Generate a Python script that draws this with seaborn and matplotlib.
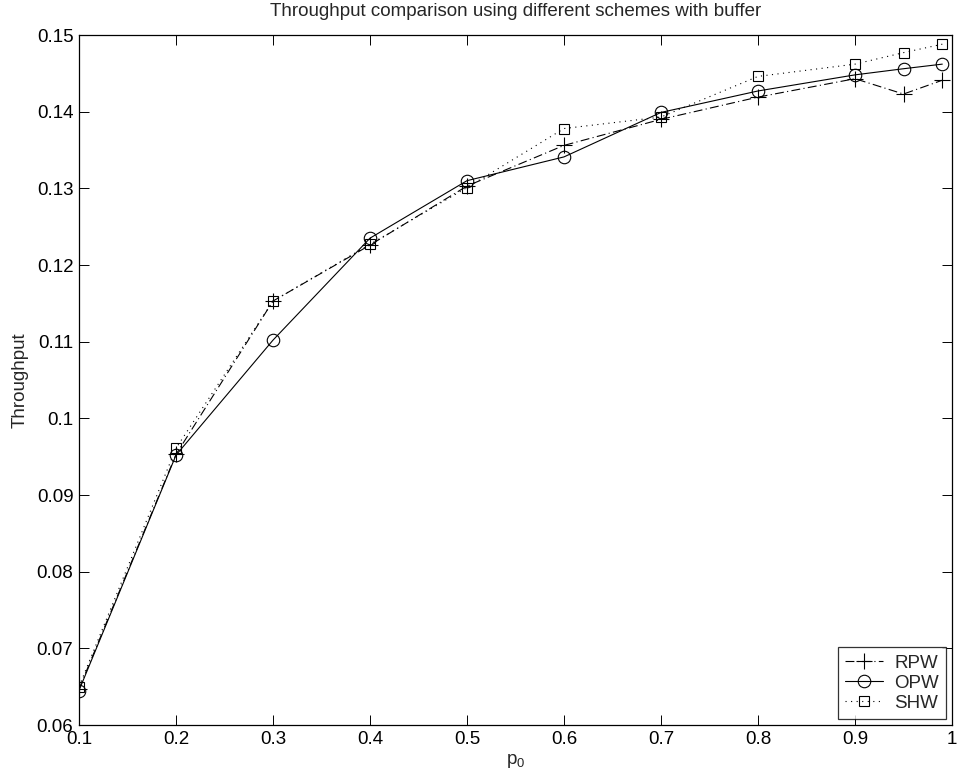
import numpy as np
import pandas as pd
import matplotlib
matplotlib.use("Agg")
import matplotlib.pyplot as plt
import seaborn as sns

# ── Data ──────────────────────────────────────────────────────────────────────
p0 = [0.1, 0.2, 0.3, 0.4, 0.5, 0.6, 0.7, 0.8, 0.9, 0.95, 0.99]
rpw = [0.0647, 0.0953, 0.1153, 0.1226, 0.1303, 0.1356, 0.1390, 0.1419, 0.1443, 0.1423, 0.1441]
opw = [0.0645, 0.0952, 0.1102, 0.1235, 0.1310, 0.1341, 0.1399, 0.1427, 0.1448, 0.1456, 0.1462]
shw = [0.0650, 0.0961, 0.1153, 0.1227, 0.1301, 0.1378, 0.1393, 0.1446, 0.1462, 0.1477, 0.1488]

series_names = ["RPW", "OPW", "SHW"]
series_vals = [rpw, opw, shw]
series_style = {
    "RPW": dict(linestyle=(0, (8, 3, 1, 3)), marker="+", markersize=11),
    "OPW": dict(linestyle="-", marker="o", markersize=9, markerfacecolor="none"),
    "SHW": dict(linestyle=(0, (1, 4)), marker="s", markersize=7.5, markerfacecolor="none"),
}

x_ticks = [0.1, 0.2, 0.3, 0.4, 0.5, 0.6, 0.7, 0.8, 0.9, 1.0]
x_ticklabels = ["0.1", "0.2", "0.3", "0.4", "0.5", "0.6", "0.7", "0.8", "0.9", "1"]
y_ticks = [0.06, 0.07, 0.08, 0.09, 0.10, 0.11, 0.12, 0.13, 0.14, 0.15]
y_ticklabels = ["0.06", "0.07", "0.08", "0.09", "0.1", "0.11", "0.12", "0.13", "0.14", "0.15"]

# ── Style ─────────────────────────────────────────────────────────────────────
sns.set_style("white")
plt.rcParams["font.family"] = ["Liberation Sans", "DejaVu Sans"]
plt.rcParams["mathtext.default"] = "regular"

fig = plt.figure(figsize=(9.59, 7.82), dpi=100)
ax = fig.add_axes([79 / 959, 1 - 725 / 782, (952 - 79) / 959, (725 - 35) / 782])

for name, vals in zip(series_names, series_vals):
    df = pd.DataFrame({"p0": p0, "thr": vals})
    sns.lineplot(data=df, x="p0", y="thr", ax=ax, color="black", lw=0.8,
                 markeredgecolor="black", markeredgewidth=0.8,
                 label=name, **series_style[name])

ax.set_xlim(0.1, 1.0)
ax.set_ylim(0.06, 0.15)
ax.set_xticks(x_ticks)
ax.set_xticklabels(x_ticklabels)
ax.set_yticks(y_ticks)
ax.set_yticklabels(y_ticklabels)
ax.tick_params(direction="in", length=7, width=0.7, labelsize=13.5,
               top=True, right=True, bottom=True, left=True, pad=4, colors="black")
for sp in ax.spines.values():
    sp.set_visible(True)
    sp.set_color("black")
    sp.set_linewidth(0.9)

ax.set_xlabel("p$_0$", fontsize=13.5, labelpad=3)
ax.set_ylabel("Throughput", fontsize=13.5, labelpad=6)
ax.set_title("Throughput comparison using different schemes with buffer",
             fontsize=13.5, pad=14)

leg = ax.legend(loc="lower right", fontsize=13.5, frameon=True, fancybox=False,
                borderaxespad=0.3, handlelength=2.0, handletextpad=0.6,
                borderpad=0.4, labelspacing=0.15)
leg.get_frame().set_edgecolor("black")
leg.get_frame().set_linewidth(0.9)

fig.savefig("out.png", dpi=100)
